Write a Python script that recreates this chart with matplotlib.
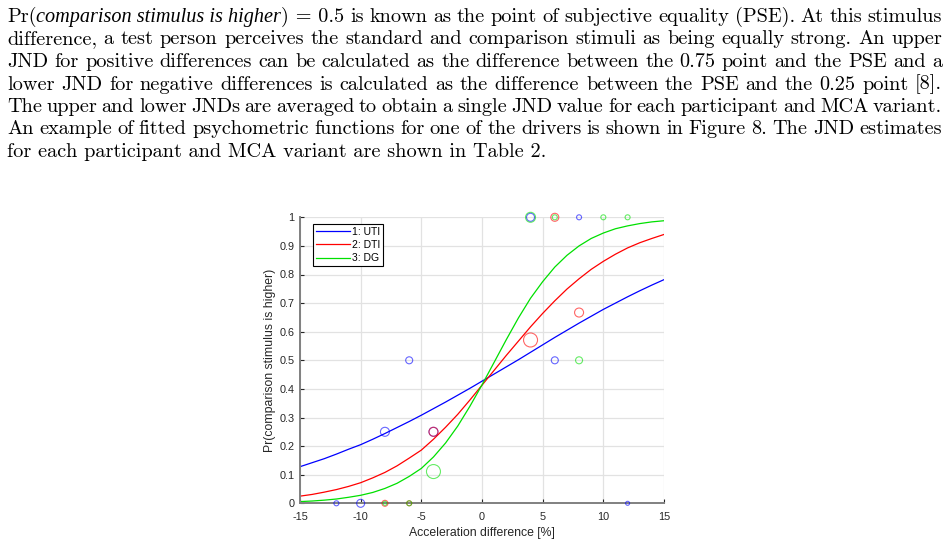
import matplotlib
matplotlib.use("Agg")
import matplotlib.pyplot as plt

plt.rcParams['mathtext.fontset'] = 'cm'

# paragraph above the figure; the first "word" is a formula built from pieces
formula = [('Pr(', 'rm'), ('comparison stimulus is higher', 'it'), (')', 'rm'), (' = 0.5', 'rm')]
para_lines = [
    ['is', 'known', 'as', 'the', 'point', 'of', 'subjective', 'equality', '(PSE).', 'At', 'this', 'stimulus'],
    'difference, a test person perceives the standard and comparison stimuli as being equally strong. An upper'.split(' '),
    'JND for positive differences can be calculated as the difference between the 0.75 point and the PSE and a'.split(' '),
    'lower JND for negative differences is calculated as the difference between the PSE and the 0.25 point [8].'.split(' '),
    'The upper and lower JNDs are averaged to obtain a single JND value for each participant and MCA variant.'.split(' '),
    'An example of fitted psychometric functions for one of the drivers is shown in Figure 8. The JND estimates'.split(' '),
    'for each participant and MCA variant are shown in Table 2.'.split(' '),
]

# fitted psychometric curves
x_fit = list(range(-15, 16))
p_uti = [0.128, 0.142, 0.156, 0.172, 0.189, 0.205, 0.224, 0.244, 0.265, 0.286, 0.308, 0.331, 0.354,
         0.378, 0.402, 0.427, 0.452, 0.477, 0.502, 0.528, 0.554, 0.580, 0.605, 0.630, 0.654, 0.678,
         0.700, 0.722, 0.743, 0.763, 0.782]
p_dti = [0.025, 0.031, 0.039, 0.048, 0.059, 0.072, 0.089, 0.108, 0.131, 0.158, 0.186, 0.224, 0.266,
         0.311, 0.361, 0.413, 0.465, 0.517, 0.567, 0.617, 0.664, 0.708, 0.749, 0.785, 0.818, 0.846,
         0.871, 0.893, 0.911, 0.926, 0.940]
p_dg = [0.006, 0.008, 0.011, 0.015, 0.021, 0.028, 0.038, 0.052, 0.070, 0.094, 0.122, 0.162, 0.211,
        0.270, 0.339, 0.414, 0.493, 0.572, 0.648, 0.717, 0.775, 0.826, 0.867, 0.900, 0.926, 0.945,
        0.960, 0.970, 0.978, 0.984, 0.988]

# observed proportions, marker diameter in px
uti_x = [-12, -10, -8, -6, -4, 4, 6, 8, 12]
uti_p = [0, 0, 0.25, 0.5, 0.25, 1, 0.5, 1, 0]
uti_d = [5, 8, 9, 7, 9, 8, 7, 5, 4]

dti_x = [-8, -6, -4, 4, 6, 8]
dti_p = [0, 0, 0.25, 0.571, 1, 0.667]
dti_d = [6, 5, 9, 14, 8, 9]

dg_x = [-8, -6, -4, 4, 6, 8, 10, 12]
dg_p = [0, 0, 0.111, 1, 1, 0.5, 1, 1]
dg_d = [4, 5, 14, 10, 5, 7, 5, 5]

labels = ['1: UTI', '2: DTI', '3: DG']
colors = ['#0000ff', '#ff0000', '#00e000']

W, H = 948, 545
fig = plt.figure(figsize=(W / 100, H / 100), dpi=100)

ax = fig.add_axes([300 / W, 1 - 503.3 / H, 364 / W, 286 / H])
ax.set_xlim(-15, 15)
ax.set_ylim(0, 1)
ax.set_axisbelow(True)
ax.grid(color='#e2e2e2', lw=0.9)

for xs, ps, c, lab in zip([x_fit] * 3, [p_uti, p_dti, p_dg], colors, labels):
    ax.plot(xs, ps, color=c, lw=0.9, label=lab)

for xs, ps, ds, c in [(uti_x, uti_p, uti_d, colors[0]), (dti_x, dti_p, dti_d, colors[1]),
                      (dg_x, dg_p, dg_d, colors[2])]:
    ax.scatter(xs, ps, s=[(d * 0.72) ** 2 for d in ds], facecolors='none', edgecolors=c,
               linewidths=0.8, alpha=0.6, clip_on=False, zorder=3)

for s in ['top', 'right']:
    ax.spines[s].set_visible(False)
for s in ['left', 'bottom']:
    ax.spines[s].set_color('#808080')
    ax.spines[s].set_linewidth(1.4)

ax.set_xticks([-15, -10, -5, 0, 5, 10, 15])
ax.set_xticklabels(['-15', '-10', '-5', '0', '5', '10', '15'])
ax.set_yticks([i / 10 for i in range(11)])
ax.set_yticklabels(['0', '0.1', '0.2', '0.3', '0.4', '0.5', '0.6', '0.7', '0.8', '0.9', '1'])
ax.tick_params(direction='in', length=3, width=0.8, color='#262626', labelsize=7.8,
               labelcolor='#262626')
ax.tick_params(axis='x', pad=6)
ax.tick_params(axis='y', pad=4)
for t in ax.get_xticklabels() + ax.get_yticklabels():
    t.set_family('Liberation Sans')

ax.set_xlabel('Acceleration difference [%]', family='Liberation Sans', fontsize=8.8,
              color='#262626', labelpad=4)
ax.set_ylabel('Pr(comparison stimulus is higher)', family='Liberation Sans', fontsize=8.8,
              color='#262626', labelpad=2.5)

leg = ax.legend(loc='upper left', bbox_to_anchor=(0.036, 0.977), borderaxespad=0,
                prop={'family': 'Liberation Sans', 'size': 7.5}, handlelength=3.2,
                handletextpad=0.2, labelspacing=0.3, borderpad=0.3, fancybox=False,
                framealpha=1, edgecolor='black')
leg.get_frame().set_linewidth(0.8)

# justified paragraph
fs = 14.6
fig.canvas.draw()
r = fig.canvas.get_renderer()
left, right = 7, 942
base0, skip = 22, 22.5


def make_word(pieces, yb):
    # a word is one or more pieces drawn side by side
    out = []
    for txt, kind in pieces:
        if kind == 'it':
            t = fig.text(0, yb, txt, family='Liberation Serif', style='italic', fontsize=fs,
                         va='baseline')
        else:
            t = fig.text(0, yb, txt, family='cmr10', fontsize=fs, va='baseline')
        out.append((t, t.get_window_extent(r).width))
    return out


for i, words in enumerate(para_lines):
    yb = 1 - (base0 + i * skip) / H
    if i == len(para_lines) - 1:
        fig.text(left / W, yb, ' '.join(words), family='cmr10', fontsize=fs, va='baseline')
        continue
    wlist = [make_word([(w, 'rm')], yb) for w in words]
    if i == 0:
        wlist.insert(0, make_word(formula, yb))
    widths = [sum(wd for _, wd in pieces) for pieces in wlist]
    gap = (right - left - sum(widths)) / (len(wlist) - 1)
    xpos = left
    for pieces, w in zip(wlist, widths):
        px = xpos
        for t, wd in pieces:
            t.set_x(px / W)
            px += wd
        xpos += w + gap

fig.savefig('out.png', dpi=100)
